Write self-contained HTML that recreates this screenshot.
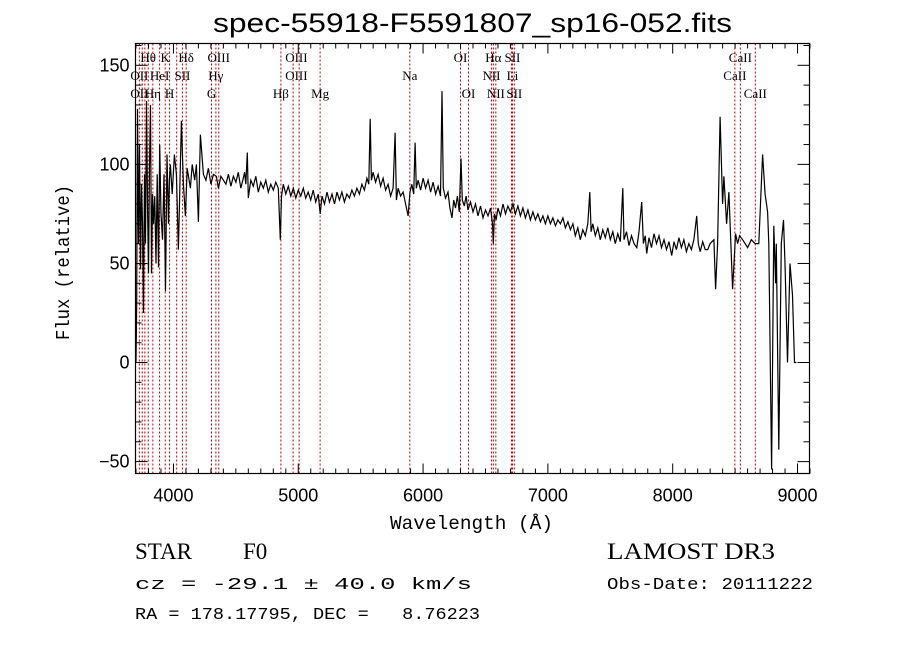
<!DOCTYPE html>
<html><head><meta charset="utf-8"><style>
body{margin:0;background:#fff;width:900px;height:649px;overflow:hidden}
</style></head><body>
<svg id="chart" width="900" height="649" viewBox="0 0 900 649" xmlns="http://www.w3.org/2000/svg" font-family="Liberation Sans,sans-serif">
<text x="213" y="32" font-size="27" font-family="Liberation Sans,sans-serif" textLength="519" lengthAdjust="spacingAndGlyphs">spec-55918-F5591807_sp16-052.fits</text>
<g id="lines"></g>
<g id="linelabels" font-family="Liberation Serif,serif"></g>
<polyline id="spec" fill="none" stroke="#000" stroke-width="1.2"/>
<rect x="135.5" y="43.5" width="674" height="430" fill="none" stroke="#000" stroke-width="1.2"/>
<g id="axes" stroke="#000" stroke-width="1"></g>
<g id="ticklabels" font-size="18"></g>
<text x="390" y="529" font-size="19" font-family="Liberation Mono,monospace" textLength="163" lengthAdjust="spacingAndGlyphs">Wavelength (Å)</text>
<text transform="translate(69,340) rotate(-90)" font-size="19" font-family="Liberation Mono,monospace" textLength="155" lengthAdjust="spacingAndGlyphs">Flux (relative)</text>
<text x="135" y="559" font-size="23" font-family="Liberation Serif,serif">STAR</text>
<text x="243" y="559" font-size="23" font-family="Liberation Serif,serif">F0</text>
<text x="135" y="589" font-size="17" font-family="Liberation Mono,monospace" textLength="337" lengthAdjust="spacingAndGlyphs">cz = -29.1 ± 40.0 km/s</text>
<text x="135" y="619" font-size="17" font-family="Liberation Mono,monospace" xml:space="preserve" textLength="345" lengthAdjust="spacingAndGlyphs">RA = 178.17795, DEC =   8.76223</text>
<text x="607" y="559" font-size="23" font-family="Liberation Serif,serif" textLength="168" lengthAdjust="spacingAndGlyphs">LAMOST DR3</text>
<text x="607" y="589" font-size="17" font-family="Liberation Mono,monospace" textLength="206" lengthAdjust="spacingAndGlyphs">Obs-Date: 20111222</text>
</svg>
<script>
const wl=[3700,3706,3712,3720,3728,3736,3744,3752,3760,3768,3776,3784,3792,3800,3808,3816,3824,3832,3840,3850,3860,3870,3880,3890,3900,3912,3924,3936,3948,3960,3968,3976,3990,4008,4024,4040,4064,4080,4096,4110,4136,4150,4170,4184,4200,4216,4240,4260,4280,4300,4320,4344,4360,4380,4400,
4420,4440,4460,4480,4500,4520,4540,4560,4570,4580,4592,4600,4620,4640,4660,4680,4700,4720,4740,4760,4780,4800,4820,4840,4856,4866,4880,4900,4920,4940,4960,4980,5000,5020,5040,5060,5080,5100,5120,5140,5160,5176,5190,5210,5230,5250,5270,5290,5310,5330,5350,5370,5390,5410,5430,5450,5470,5490,5510,5530,5550,5565,5576,5586,5600,5620,5640,5660,5680,5700,5720,5740,5760,5776,5786,5800,5820,5840,5860,5880,5895,5910,5925,5936,5946,5960,5980,6000,6020,6040,6060,6080,6100,6120,6140,6152,6162,6180,6200,6215,6232,6245,6260,6275,6290,6304,6314,6330,6345,6360,6380,6400,6420,6440,6460,6480,6500,6520,6540,6556,6563,6572,6585,6600,6620,6640,6660,6680,6700,6720,6740,6760,6780,6800,6820,6840,6860,6880,6900,6920,6940,6960,6980,7000,7020,7040,7060,7080,7100,7120,7140,7160,7180,7200,7220,7240,7260,7280,7300,7320,7336,7346,7360,7380,7400,7420,7440,7460,7480,7500,7520,7540,7560,7580,7600,7610,7630,7650,7670,7690,7712,7730,7752,7765,7780,7792,7810,7830,7850,7870,7890,7910,7930,7950,7970,7992,8010,8030,8050,8070,8090,8110,8130,8150,8170,8192,8205,8220,8240,8260,8280,
8300,8330,8344,8360,8380,8400,8410,8432,8450,8480,8504,8520,8536,8560,8600,8630,8660,8690,8720,8740,8760,8770,8792,8810,8824,8830,8850,8870,8888,8900,8920,8940,8960,8976,8992,9000,9010];
const flux=[0,30,128,60,110,47,90,70,25,95,60,132,80,45,100,130,45,85,70,84,50,95,48,110,75,62,95,36,105,70,92,100,85,105,95,57,122,90,74,98,88,100,92,100,71,115,95,92,98,90,95,94,88,94,92,
90,95,89,94,91,96,88,93,96,90,106,83,92,89,94,86,91,88,92,86,90,87,91,88,62,84,90,85,89,84,88,83,87,84,88,83,86,82,87,81,85,75,84,80,86,81,85,80,86,82,86,81,85,83,87,84,88,85,90,87,93,90,123,92,96,91,95,89,93,87,90,84,88,116,82,88,84,86,80,74,86,90,85,111,88,92,87,93,88,92,86,91,85,89,84,137,88,83,86,78,73,82,78,84,76,103,82,79,84,77,81,76,80,74,79,73,77,74,78,70,60,75,72,78,74,80,75,79,76,80,75,79,74,78,73,77,72,76,72,75,71,74,70,74,70,73,69,72,70,73,68,71,67,70,64,68,62,67,64,70,86,66,70,64,68,62,67,63,68,62,66,60,65,61,88,62,66,59,64,60,58,66,81,60,64,55,63,58,65,60,64,58,62,57,61,54,61,57,63,58,62,56,60,57,62,74,60,56,61,57,57,
60,62,37,60,124,80,94,70,86,37,65,60,64,62,58,62,60,60,105,85,76,60,-54,69,40,60,-44,60,72,50,0,50,34,0,0];
const lineWl=[3727,3750,3771,3798,3835,3889,3934,3969,4026,4072,4102,4305,4340,4363,4861,4959,5007,5175,5894,6300,6364,6548,6563,6583,6708,6716,6731,8498,8542,8662];
const labTxt=["Hθ","K","Hδ","OIII","OIII","OI","Hα","SII","CaII","OII","HeI","SII","Hγ","OIII","Na","NII","Li","CaII","OII","Hη","H","G","Hβ","Mg","OI","NII","SII","CaII"];
const labWl=[3798,3934,4102,4363,4985,6300,6563,6716,8542,3727,3889,4072,4340,4985,5894,6548,6716,8498,3727,3835,3969,4305,4861,5175,6364,6583,6731,8662];
const labRow=[0,0,0,0,0,0,0,0,0,1,1,1,1,1,1,1,1,1,2,2,2,2,2,2,2,2,2,2];
const xTicks=[4000,5000,6000,7000,8000,9000];
const yTicks=[-50,0,50,100,150];
const X0=3696,X1=9096,Y0=-56,Y1=161,L=135.5,R=809.5,T=43.5,B=473.5;
const xs=w=>L+(w-X0)/(X1-X0)*(R-L);
const ys=f=>B-(f-Y0)/(Y1-Y0)*(B-T);
const NS="http://www.w3.org/2000/svg";
function mk(tag,attrs,parent){const e=document.createElementNS(NS,tag);for(const k in attrs)e.setAttribute(k,attrs[k]);parent.appendChild(e);return e;}
const spec=document.getElementById('spec');
spec.setAttribute('points',wl.map((w,i)=>xs(w).toFixed(1)+','+Math.max(T,Math.min(B,ys(flux[i]))).toFixed(1)).join(' '));
const lg=document.getElementById('lines');
lineWl.forEach(w=>{const l=mk('line',{x1:xs(w),x2:xs(w),y1:T,y2:B,stroke:'#c00000','stroke-width':1,'stroke-dasharray':'2,2'},lg);

});
const ll=document.getElementById('linelabels');
labTxt.forEach((t,i)=>{const e=mk('text',{x:xs(labWl[i]),y:62+labRow[i]*18,'text-anchor':'middle','font-size':13},ll);e.textContent=t;

});
const ax=document.getElementById('axes'),tl=document.getElementById('ticklabels');
for(let w=3700;w<=9100;w+=100){const maj=w%1000===0,len=maj?10:5;
mk('line',{x1:xs(w),x2:xs(w),y1:B,y2:B-len},ax);mk('line',{x1:xs(w),x2:xs(w),y1:T,y2:T+len},ax);}
for(let f=-50;f<=160;f+=10){const maj=f%50===0,len=maj?12:6;
mk('line',{x1:L,x2:L+len,y1:ys(f),y2:ys(f)},ax);mk('line',{x1:R,x2:R-len,y1:ys(f),y2:ys(f)},ax);}
xTicks.forEach(v=>{const e=mk('text',{x:xs(v),y:B+28,'text-anchor':'middle'},tl);e.textContent=v;

});
yTicks.forEach(v=>{const e=mk('text',{x:L-6,y:ys(v)+6,'text-anchor':'end'},tl);e.textContent=v<0?'−'+(-v):v;

});
</script>
</body></html>
